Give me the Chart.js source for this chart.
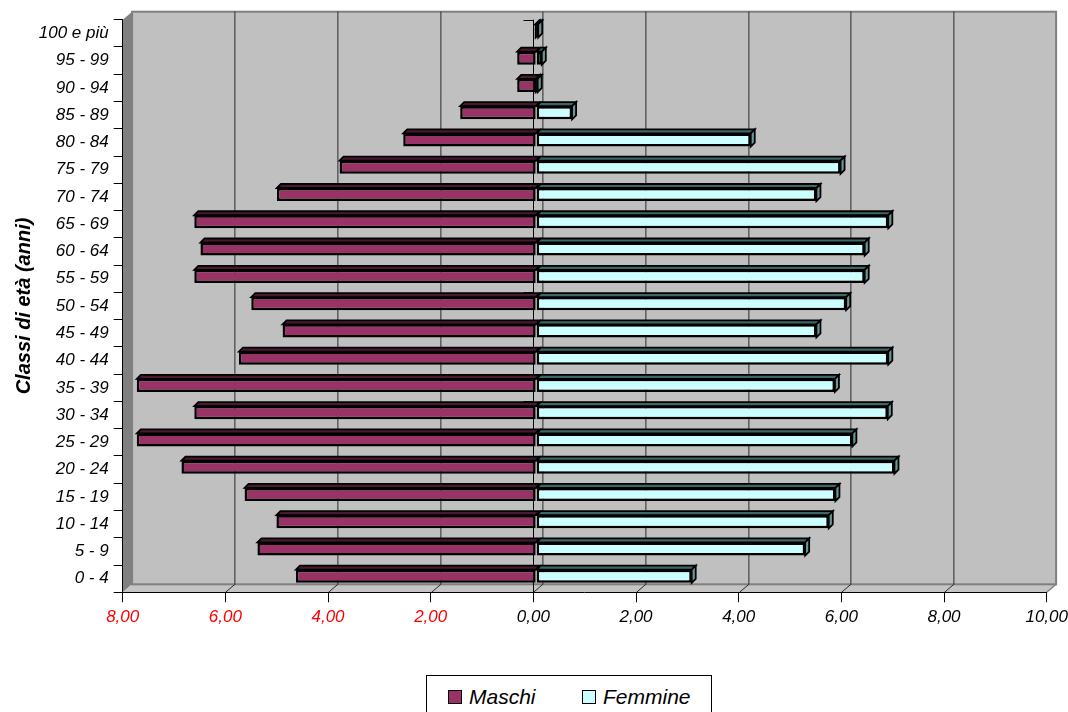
<!DOCTYPE html>
<html>
<head>
<meta charset="utf-8">
<script src="https://cdn.jsdelivr.net/npm/chart.js@4/dist/chart.umd.min.js"></script>
<style>
  body { margin: 0; background: #fff; }
  #wrap { position: relative; width: 1068px; height: 712px; overflow: hidden; }
  #legend {
    position: absolute; left: 426px; top: 675px; width: 286px; height: 40px;
    border: 1px solid #000; background: #fff; box-sizing: border-box;
    font: italic 21px "Liberation Sans", Arial, sans-serif;
  }
  .item { position: absolute; top: 9px; line-height: 24px; white-space: nowrap; }
  .swatch { position: absolute; top: 5px; width: 14px; height: 14px; border: 1.5px solid #000; box-sizing: border-box; }
  .item span { position: absolute; left: 21px; top: 0; }
</style>
</head>
<body>
<div id="wrap">
  <canvas id="pyramid" width="1068" height="712"></canvas>
  <div id="legend"></div>
</div>
<script>
// ---- data (percent per age class) ----
const ageClasses = ['0 - 4', '5 - 9', '10 - 14', '15 - 19', '20 - 24', '25 - 29', '30 - 34',
  '35 - 39', '40 - 44', '45 - 49', '50 - 54', '55 - 59', '60 - 64', '65 - 69', '70 - 74',
  '75 - 79', '80 - 84', '85 - 89', '90 - 94', '95 - 99', '100 e più'];
const maschi = [-4.68, -5.43, -5.06, -5.68, -6.91, -7.78, -6.66, -7.78, -5.79, -4.94, -5.55,
  -6.66, -6.54, -6.66, -5.05, -3.83, -2.59, -1.48, -0.37, -0.37, -0.02];
const femmine = [3.03, 5.24, 5.70, 5.83, 6.98, 6.16, 6.85, 5.82, 6.86, 5.46, 6.04,
  6.40, 6.40, 6.86, 5.46, 5.93, 4.18, 0.70, 0.03, 0.11, 0.04];
const seriesNames = ['Maschi', 'Femmine'];
const seriesColors = ['#993366', '#CCFFFF'];
const topColors = ['#4a1830', '#3d6666'];
const sideColors = ['#4a1830', '#669999'];
const xMin = -8, xMax = 10, xStep = 2;

// 3D look: back wall offset and bar depth
const WALL_DX = 9.4, WALL_DY = -8;
const BAR_DX = 2.8, BAR_DY = -2.4;
const DEPTH = 4;
const FONT = '"Liberation Sans", Arial, sans-serif';

const fmt = v => Math.abs(v).toFixed(2).replace('.', ',');

const wall3d = {
  id: 'wall3d',
  beforeDraw(chart) {
    const {ctx, chartArea: a, scales: {x}} = chart;
    ctx.save();
    // left wall
    ctx.fillStyle = '#808080';
    ctx.beginPath();
    ctx.moveTo(a.left, a.top); ctx.lineTo(a.left + WALL_DX, a.top + WALL_DY);
    ctx.lineTo(a.left + WALL_DX, a.bottom + WALL_DY); ctx.lineTo(a.left, a.bottom);
    ctx.closePath(); ctx.fill();
    // floor
    ctx.fillStyle = '#c4c4c4';
    ctx.beginPath();
    ctx.moveTo(a.left, a.bottom); ctx.lineTo(a.left + WALL_DX, a.bottom + WALL_DY);
    ctx.lineTo(a.right + WALL_DX, a.bottom + WALL_DY); ctx.lineTo(a.right, a.bottom);
    ctx.closePath(); ctx.fill();
    ctx.strokeStyle = '#808080'; ctx.lineWidth = 1.5;
    ctx.beginPath();
    ctx.moveTo(a.right, a.bottom); ctx.lineTo(a.right + WALL_DX, a.bottom + WALL_DY);
    ctx.stroke();
    // back wall
    ctx.fillStyle = '#c0c0c0';
    ctx.fillRect(a.left + WALL_DX, a.top + WALL_DY, a.right - a.left, a.bottom - a.top);
    ctx.strokeStyle = '#808080'; ctx.lineWidth = 2;
    ctx.strokeRect(a.left + WALL_DX, a.top + WALL_DY, a.right - a.left, a.bottom - a.top);
    // grid lines on back wall and floor
    ctx.strokeStyle = '#2a2a2a'; ctx.lineWidth = 1;
    for (let v = xMin + xStep; v < xMax; v += xStep) {
      const px = Math.round(x.getPixelForValue(v)) + 0.5;
      ctx.beginPath();
      ctx.moveTo(px + WALL_DX, a.top + WALL_DY);
      ctx.lineTo(px + WALL_DX, a.bottom + WALL_DY);
      ctx.lineTo(px, a.bottom);
      ctx.stroke();
    }
    ctx.restore();
  },
  beforeDatasetsDraw(chart) {
    const {ctx, chartArea: a, scales: {x}} = chart;
    // zero line with category ticks
    const zx = Math.round(x.getPixelForValue(0)) + 0.5;
    const h = (a.bottom - a.top) / ageClasses.length;
    ctx.save();
    ctx.strokeStyle = '#000'; ctx.lineWidth = 1;
    ctx.beginPath();
    ctx.moveTo(zx, a.top); ctx.lineTo(zx, a.bottom);
    for (let k = 0; k < ageClasses.length; k++) {
      const y = Math.round(a.top + k * h) + 0.5;
      ctx.moveTo(zx - 10, y); ctx.lineTo(zx, y);
    }
    ctx.stroke();
    ctx.restore();

    ctx.save();
    ctx.translate(BAR_DX, BAR_DY);
    // top and side faces, drawn under the front faces
    chart.data.datasets.forEach((ds, i) => {
      chart.getDatasetMeta(i).data.forEach((el, j) => {
        const p = el.getProps(['x', 'y', 'base', 'height'], true);
        const l = Math.min(p.x, p.base), r = Math.max(p.x, p.base);
        const t = p.y - p.height / 2, b = p.y + p.height / 2;
        ctx.lineWidth = 1.8; ctx.strokeStyle = '#000';
        ctx.fillStyle = topColors[i];
        ctx.beginPath();
        ctx.moveTo(l, t); ctx.lineTo(l + DEPTH, t - DEPTH);
        ctx.lineTo(r + DEPTH, t - DEPTH); ctx.lineTo(r, t);
        ctx.closePath(); ctx.fill(); ctx.stroke();
        const outer = i === 1 || femmine[j] < 0.05;
        if (outer) {
          ctx.fillStyle = sideColors[i];
          ctx.beginPath();
          ctx.moveTo(r, t); ctx.lineTo(r + DEPTH, t - DEPTH);
          ctx.lineTo(r + DEPTH, b - DEPTH); ctx.lineTo(r, b);
          ctx.closePath(); ctx.fill(); ctx.stroke();
        }
      });
    });
  },
  afterDatasetsDraw(chart) {
    chart.ctx.restore();
  }
};

new Chart(document.getElementById('pyramid'), {
  type: 'bar',
  data: {
    labels: ageClasses,
    datasets: [
      {label: seriesNames[0], data: maschi, backgroundColor: seriesColors[0]},
      {label: seriesNames[1], data: femmine, backgroundColor: seriesColors[1]}
    ]
  },
  options: {
    indexAxis: 'y',
    responsive: false,
    animation: false,
    devicePixelRatio: 1,
    layout: {padding: {left: 0, top: 19.7, right: 21.3, bottom: 0}},
    datasets: {
      bar: {
        borderColor: '#000', borderWidth: 2.5, borderSkipped: false,
        barPercentage: 0.48, categoryPercentage: 1
      }
    },
    plugins: {legend: {display: false}, tooltip: {enabled: false}},
    scales: {
      x: {
        stacked: true, min: xMin, max: xMax,
        afterFit: s => { s.height = 119.7; s.paddingLeft = 0; s.paddingRight = 0; },
        ticks: {
          stepSize: xStep, padding: 5,
          callback: v => fmt(v),
          color: c => (c.tick && c.tick.value < 0) ? '#ff0000' : '#000',
          font: {family: FONT, size: 17, style: 'italic'}
        },
        grid: {drawOnChartArea: false, tickLength: 10, color: '#000'},
        border: {display: true, color: '#000', width: 1}
      },
      y: {
        stacked: true, reverse: true,
        afterFit: s => { s.width = 122.7; s.paddingTop = 0; s.paddingBottom = 0; },
        ticks: {
          autoSkip: false, padding: 5, color: '#000',
          font: {family: FONT, size: 17, style: 'italic'}
        },
        grid: {offset: true, drawOnChartArea: false, tickLength: 9, color: '#000'},
        border: {display: true, color: '#000', width: 1},
        title: {
          display: true, text: 'Classi di età (anni)', color: '#000',
          padding: {top: 12, bottom: 0},
          font: {family: FONT, size: 20, style: 'italic', weight: 'bold'}
        }
      }
    }
  },
  plugins: [wall3d]
});

// legend
const legend = document.getElementById('legend');
const itemX = [21, 155];
seriesNames.forEach((name, i) => {
  const it = document.createElement('div');
  it.className = 'item';
  it.style.left = itemX[i] + 'px';
  it.innerHTML = '<div class="swatch" style="background:' + seriesColors[i] + '"></div><span>' + name + '</span>';
  legend.appendChild(it);
});
</script>
</body>
</html>
